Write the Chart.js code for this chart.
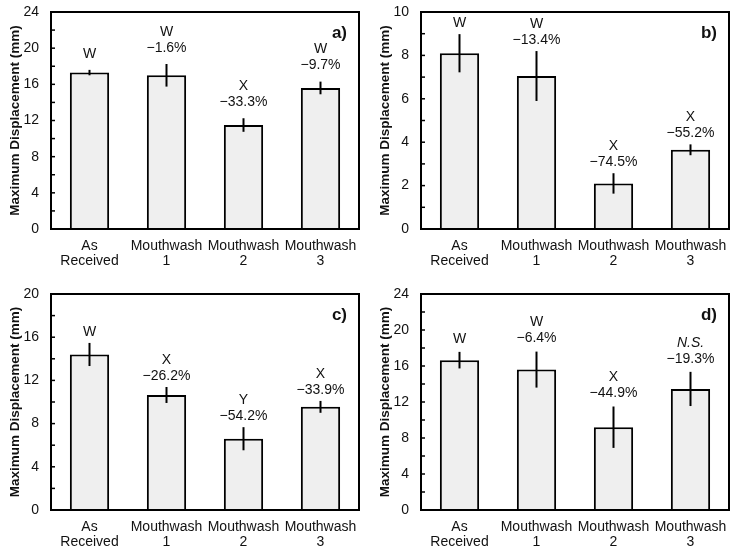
<!DOCTYPE html>
<html>
<head>
<meta charset="utf-8">
<script src="https://cdn.jsdelivr.net/npm/chart.js@4"></script>
<style>
  body { margin: 0; background: #fff; }
  .panel { position: absolute; }
</style>
</head>
<body>
<div class="panel" style="left:0;top:0"><canvas id="pa" width="369" height="279"></canvas></div>
<div class="panel" style="left:370px;top:0"><canvas id="pb" width="369" height="279"></canvas></div>
<div class="panel" style="left:0;top:280px"><canvas id="pc" width="369" height="278"></canvas></div>
<div class="panel" style="left:370px;top:280px"><canvas id="pd" width="369" height="278"></canvas></div>
<script>
"use strict";

// ----- data ---------------------------------------------------------------- //
const CATEGORIES = [["As", "Received"], ["Mouthwash", "1"], ["Mouthwash", "2"], ["Mouthwash", "3"]];

const A_MEANS   = [17.3, 17.0, 11.5, 15.6];
const A_ERRORS  = [0.3, 1.25, 0.75, 0.7];
const A_LETTERS = ["W", "W", "X", "W"];
const A_CHANGE  = ["", "\u22121.6%", "\u221233.3%", "\u22129.7%"];

const B_MEANS   = [8.1, 7.05, 2.1, 3.65];
const B_ERRORS  = [0.88, 1.15, 0.47, 0.25];
const B_LETTERS = ["W", "W", "X", "X"];
const B_CHANGE  = ["", "\u221213.4%", "\u221274.5%", "\u221255.2%"];

const C_MEANS   = [14.4, 10.65, 6.6, 9.55];
const C_ERRORS  = [1.07, 0.74, 1.07, 0.55];
const C_LETTERS = ["W", "X", "Y", "X"];
const C_CHANGE  = ["", "\u221226.2%", "\u221254.2%", "\u221233.9%"];

const D_MEANS   = [16.65, 15.6, 9.2, 13.45];
const D_ERRORS  = [0.92, 2.0, 2.3, 1.9];
const D_LETTERS = ["W", "W", "X", "N.S."];
const D_CHANGE  = ["", "\u22126.4%", "\u221244.9%", "\u221219.3%"];

const FONT = "'Liberation Sans', Arial, sans-serif";
const INK = "#111";

// ----- plugins ------------------------------------------------------------- //
// frame, inside ticks, error bars, significance labels, panel tag
const decorPlugin = {
  id: "decor",
  afterDatasetsDraw(chart, args, opts) {
    const { ctx, chartArea: ca, scales: { x, y } } = chart;
    ctx.save();
    ctx.strokeStyle = "#000";
    ctx.lineWidth = 2;

    // error bars
    opts.means.forEach((m, i) => {
      const px = x.getPixelForValue(i);
      ctx.beginPath();
      ctx.moveTo(px, y.getPixelForValue(m - opts.errors[i]));
      ctx.lineTo(px, y.getPixelForValue(m + opts.errors[i]));
      ctx.stroke();
    });

    // frame
    ctx.strokeRect(ca.left, ca.top, ca.right - ca.left, ca.bottom - ca.top);

    // inside ticks (major + minor)
    ctx.lineWidth = 1.5;
    y.ticks.forEach(t => {
      const py = y.getPixelForValue(t.value);
      ctx.beginPath();
      ctx.moveTo(ca.left, py);
      ctx.lineTo(ca.left + 4, py);
      ctx.stroke();
    });

    // labels above bars
    ctx.fillStyle = INK;
    ctx.textAlign = "center";
    ctx.textBaseline = "middle";
    opts.means.forEach((m, i) => {
      const px = x.getPixelForValue(i);
      const top = y.getPixelForValue(m + opts.errors[i]);
      let ly = top - opts.gap;
      if (opts.change[i]) {
        ctx.font = "14px " + FONT;
        ctx.fillText(opts.change[i], px, ly);
        ly -= 16;
      }
      ctx.font = (opts.letters[i] === "N.S." ? "italic " : "") + "14px " + FONT;
      ctx.fillText(opts.letters[i], px, ly);
    });

    // panel tag
    ctx.font = "bold 17px " + FONT;
    ctx.textAlign = "right";
    ctx.fillText(opts.tag, ca.right - 12, ca.top + 21);
    ctx.restore();
  },
};

// ----- charts -------------------------------------------------------------- //
function makePanel(id, means, errors, letters, change, yMax, yStep, tag, gap, topPad, xHeight) {
  return new Chart(document.getElementById(id), {
    type: "bar",
    data: {
      labels: CATEGORIES,
      datasets: [{
        data: means,
        backgroundColor: "#efefef",
        borderColor: "#000",
        borderWidth: 2,
        barPercentage: 0.51,
        categoryPercentage: 1,
      }],
    },
    options: {
      responsive: false,
      animation: false,
      devicePixelRatio: 1,
      layout: { padding: { top: topPad, right: 10, left: 0, bottom: 0 } },
      plugins: {
        legend: { display: false },
        tooltip: { enabled: false },
        decor: { means, errors, letters, change, tag, gap },
      },
      scales: {
        x: {
          grid: { display: false, drawTicks: false },
          border: { display: false },
          ticks: {
            color: INK,
            padding: 10,
            autoSkip: false,
            maxRotation: 0,
            minRotation: 0,
            font: { family: FONT, size: 14, lineHeight: 1.05 },
          },
          afterFit: s => { s.height = xHeight; },
        },
        y: {
          min: 0,
          max: yMax,
          grid: { display: false, drawTicks: false },
          border: { display: false },
          ticks: {
            stepSize: yStep / 2,
            autoSkip: false,
            color: INK,
            padding: 12,
            font: { family: FONT, size: 14 },
            callback: v => (v % yStep === 0 ? v : ""),
          },
          title: {
            display: true,
            text: "Maximum Displacement (mm)",
            color: INK,
            padding: { top: 7, bottom: 0 },
            font: { family: FONT, size: 13.5, weight: "bold" },
          },
          afterFit: s => {
            s.width = 51;
            s.paddingTop = 0;
            s.paddingBottom = 0;
          },
        },
      },
    },
    plugins: [decorPlugin],
  });
}

makePanel("pa", A_MEANS, A_ERRORS, A_LETTERS, A_CHANGE, 24, 4, "a)", 16, 12, 50);
makePanel("pb", B_MEANS, B_ERRORS, B_LETTERS, B_CHANGE, 10, 2, "b)", 11, 12, 50);
makePanel("pc", C_MEANS, C_ERRORS, C_LETTERS, C_CHANGE, 20, 4, "c)", 11, 14, 48);
makePanel("pd", D_MEANS, D_ERRORS, D_LETTERS, D_CHANGE, 24, 4, "d)", 13, 14, 48);
</script>
</body>
</html>
